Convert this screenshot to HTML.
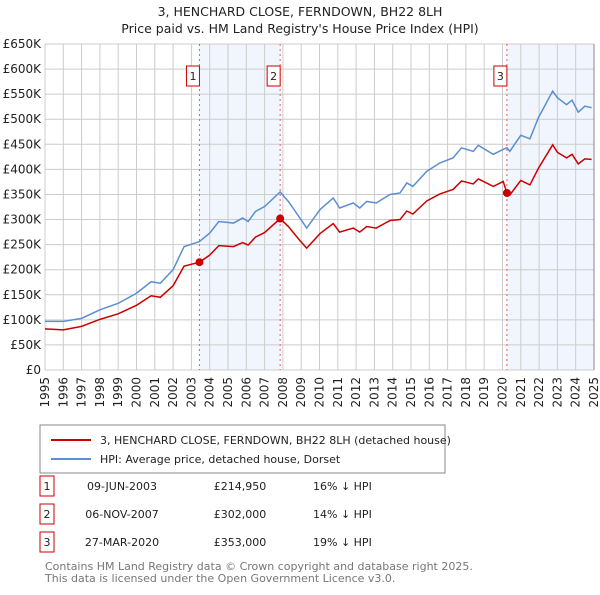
<!DOCTYPE html>
<html><head><meta charset="utf-8"><style>
body{margin:0;background:#fff;font-family:"Liberation Sans","DejaVu Sans",sans-serif;}
svg text{font-family:"DejaVu Sans","Liberation Sans",sans-serif;}
</style></head><body>
<svg width="600" height="590" xmlns="http://www.w3.org/2000/svg" id="chart">
<text x="300" y="16" text-anchor="middle" font-size="12.5" fill="#222">3, HENCHARD CLOSE, FERNDOWN, BH22 8LH</text>
<text x="300" y="33" text-anchor="middle" font-size="12.5" fill="#222">Price paid vs. HM Land Registry's House Price Index (HPI)</text>
<g id="plot"></g>
<g>
<rect x="40" y="425" width="405" height="48" fill="#fff" stroke="#888"/>
<line x1="51" y1="440" x2="91" y2="440" stroke="#cc0000" stroke-width="2"/>
<text x="100" y="444" font-size="11" fill="#222">3, HENCHARD CLOSE, FERNDOWN, BH22 8LH (detached house)</text>
<line x1="51" y1="459" x2="91" y2="459" stroke="#5b8fd0" stroke-width="2"/>
<text x="100" y="463" font-size="11" fill="#222">HPI: Average price, detached house, Dorset</text>
</g>
<g font-size="11" fill="#222">
<rect x="40" y="476" width="14" height="20" fill="#fff" stroke="#cc0000"/><text x="47" y="490" text-anchor="middle">1</text>
<text x="122" y="490" text-anchor="middle">09-JUN-2003</text><text x="240" y="490" text-anchor="middle">£214,950</text><text x="313" y="490">16% ↓ HPI</text>
<rect x="40" y="504" width="14" height="20" fill="#fff" stroke="#cc0000"/><text x="47" y="518" text-anchor="middle">2</text>
<text x="122" y="518" text-anchor="middle">06-NOV-2007</text><text x="240" y="518" text-anchor="middle">£302,000</text><text x="313" y="518">14% ↓ HPI</text>
<rect x="40" y="532" width="14" height="20" fill="#fff" stroke="#cc0000"/><text x="47" y="546" text-anchor="middle">3</text>
<text x="122" y="546" text-anchor="middle">27-MAR-2020</text><text x="240" y="546" text-anchor="middle">£353,000</text><text x="313" y="546">19% ↓ HPI</text>
</g>
<text x="45" y="570" font-size="11" fill="#777">Contains HM Land Registry data © Crown copyright and database right 2025.</text>
<text x="45" y="582" font-size="11" fill="#777">This data is licensed under the Open Government Licence v3.0.</text>
</svg>
<script>
const hpiYears=[1995.0,1996.0,1997.0,1998.0,1999.0,2000.0,2000.8,2001.3,2002.0,2002.6,2003.44,2004.0,2004.5,2005.3,2005.8,2006.1,2006.5,2007.0,2007.85,2008.3,2008.93,2009.3,2010.03,2010.75,2011.1,2011.85,2012.2,2012.58,2013.1,2013.85,2014.4,2014.77,2015.1,2015.86,2016.58,2017.3,2017.76,2018.4,2018.68,2019.5,2020.04,2020.24,2020.4,2021.0,2021.5,2021.96,2022.74,2023.0,2023.5,2023.8,2024.14,2024.5,2024.87];
const hpiValues=[97,97,103,120,133,153,176,173,200,246,256,273,296,293,303,296,316,326,355,336,303,283,320,343,323,333,323,336,333,350,353,373,366,396,413,423,443,436,448,430,440,443,436,468,461,503,556,543,529,538,514,526,523];
const priceValues=[82,80,87,101,112,129,148,145,168,207,215,229,248,246,254,249,265,274,302,286,258,243,272,292,275,283,275,286,283,298,300,317,311,337,351,360,377,371,381,366,376,353,349,378,369,402,449,434,423,430,411,421,420];
const saleLabels=["1","2","3"];
const saleYears=[2003.44,2007.85,2020.24];
const saleValues=[214.95,302,353];
const yTicks=[0,50,100,150,200,250,300,350,400,450,500,550,600,650];
const yTickLabels=["£0","£50K","£100K","£150K","£200K","£250K","£300K","£350K","£400K","£450K","£500K","£550K","£600K","£650K"];
const xTicks=[1995,1996,1997,1998,1999,2000,2001,2002,2003,2004,2005,2006,2007,2008,2009,2010,2011,2012,2013,2014,2015,2016,2017,2018,2019,2020,2021,2022,2023,2024,2025];

const L=45,R=594,T=44,B=370;
const x=y=>L+(y-1995)/30*(R-L);
const yv=v=>B-v/650*(B-T);
const NS="http://www.w3.org/2000/svg";
const g=document.getElementById('plot');
function mk(tag,a){const e=document.createElementNS(NS,tag);for(const k in a)e.setAttribute(k,a[k]);g.appendChild(e);return e;}
// shading
for(let i=0;i<saleYears.length;i++){
  const end=i===0?saleYears[1]:(i===2?2025:null);
  if(end!==null){const r=mk('rect',{x:x(saleYears[i]),y:T,width:x(end)-x(saleYears[i]),height:B-T,fill:'#eef3fc',opacity:0.8});
  
  }
}
yTicks.forEach((v,i)=>{
  const l=mk('line',{x1:L,x2:R,y1:yv(v),y2:yv(v),stroke:'#ccc','stroke-width':1});
  
  
  const t=mk('text',{x:L-4,y:yv(v)+4,'text-anchor':'end','font-size':12,fill:'#222'});
  t.textContent=yTickLabels[i];
  
  
});
xTicks.forEach(yr=>{
  const l=mk('line',{x1:x(yr),x2:x(yr),y1:T,y2:B,stroke:'#ccc','stroke-width':1});
  
  
  const t=mk('text',{x:0,y:0,'text-anchor':'end','font-size':12,fill:'#222',transform:`translate(${x(yr)+4},${B+7}) rotate(-90)`});
  t.textContent=yr;
  
  
});
saleYears.forEach((yr,i)=>{
  const l=mk('line',{x1:x(yr),x2:x(yr),y1:T,y2:B,stroke:'#e06060','stroke-width':1,'stroke-dasharray':'2,3'});
  
  
  const r=mk('rect',{x:x(yr)-13,y:66,width:13,height:20,fill:'#fff',stroke:'#cc0000'});
  
  
  const t=mk('text',{x:x(yr)-6.5,y:80,'text-anchor':'middle','font-size':11,fill:'#222'});
  t.textContent=saleLabels[i];
  
  
});
const hp=mk('polyline',{points:hpiYears.map((yr,i)=>x(yr)+','+yv(hpiValues[i])).join(' '),fill:'none',stroke:'#5b8fd0','stroke-width':1.5});


const pp=mk('polyline',{points:hpiYears.map((yr,i)=>x(yr)+','+yv(priceValues[i])).join(' '),fill:'none',stroke:'#cc0000','stroke-width':1.5});


saleYears.forEach((yr,i)=>{
  const c=mk('circle',{cx:x(yr),cy:yv(saleValues[i]),r:4,fill:'#cc0000'});
  
  
});
const ax=mk('line',{x1:R,x2:R,y1:T,y2:B,stroke:'#888','stroke-width':1});


</script>
</body></html>
